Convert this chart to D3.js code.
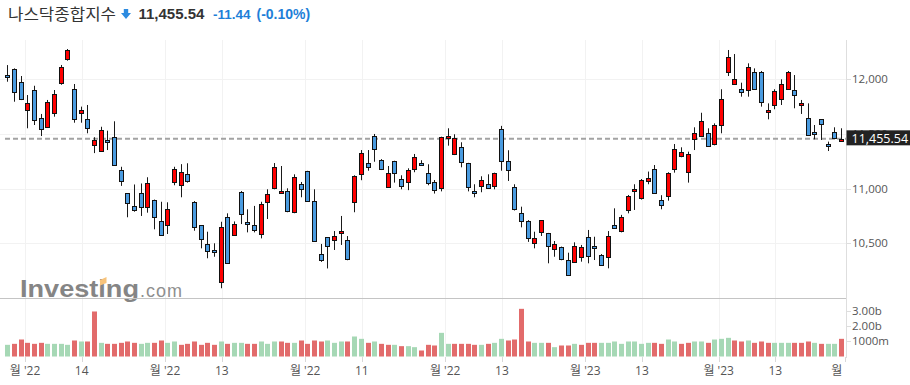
<!DOCTYPE html>
<html><head><meta charset="utf-8">
<script src="https://cdn.jsdelivr.net/npm/d3@7"></script>
<style>body{margin:0;background:#fff;}svg{display:block;}</style>
</head><body>
<svg id="chart" width="910" height="385"></svg>
<script>
// ---------------- DATA ----------------
const dates = ["2022-08-29","2022-08-30","2022-08-31","2022-09-01","2022-09-02","2022-09-06","2022-09-07","2022-09-08","2022-09-09","2022-09-12",
"2022-09-13","2022-09-14","2022-09-15","2022-09-16","2022-09-19","2022-09-20","2022-09-21","2022-09-22","2022-09-23","2022-09-26",
"2022-09-27","2022-09-28","2022-09-29","2022-09-30","2022-10-03","2022-10-04","2022-10-05","2022-10-06","2022-10-07","2022-10-10",
"2022-10-11","2022-10-12","2022-10-13","2022-10-14","2022-10-17","2022-10-18","2022-10-19","2022-10-20","2022-10-21","2022-10-24",
"2022-10-25","2022-10-26","2022-10-27","2022-10-28","2022-10-31","2022-11-01","2022-11-02","2022-11-03","2022-11-04","2022-11-07",
"2022-11-08","2022-11-09","2022-11-10","2022-11-11","2022-11-14","2022-11-15","2022-11-16","2022-11-17","2022-11-18","2022-11-21",
"2022-11-22","2022-11-23","2022-11-25","2022-11-28","2022-11-29","2022-11-30","2022-12-01","2022-12-02","2022-12-05","2022-12-06",
"2022-12-07","2022-12-08","2022-12-09","2022-12-12","2022-12-13","2022-12-14","2022-12-15","2022-12-16","2022-12-19","2022-12-20",
"2022-12-21","2022-12-22","2022-12-23","2022-12-27","2022-12-28","2022-12-29","2022-12-30","2023-01-03","2023-01-04","2023-01-05",
"2023-01-06","2023-01-09","2023-01-10","2023-01-11","2023-01-12","2023-01-13","2023-01-17","2023-01-18","2023-01-19","2023-01-20",
"2023-01-23","2023-01-24","2023-01-25","2023-01-26","2023-01-27","2023-01-30","2023-01-31","2023-02-01","2023-02-02","2023-02-03",
"2023-02-06","2023-02-07","2023-02-08","2023-02-09","2023-02-10","2023-02-13","2023-02-14","2023-02-15","2023-02-16","2023-02-17",
"2023-02-21","2023-02-22","2023-02-23","2023-02-24","2023-02-27","2023-02-28"];

const open = [12036,12091,11973,11716,11899,11643,11561,11689,11963,12183,
11908,11689,11634,11400,11344,11445,11470,11170,10957,10841,
10957,10829,10896,10704,10667,11058,11029,11131,10880,10667,
10491,10437,10143,10743,10575,10967,10692,10665,10582,10875,
11003,10957,10976,10784,11040,11163,10887,10403,10555,10530,
10600,10527,10875,11131,11232,11481,11262,11013,11255,11092,
11064,11177,11232,11146,11058,11003,11462,11314,11378,11232,
10975,11024,11040,11024,11543,11253,11013,10774,10707,10500,
10600,10591,10445,10463,10347,10326,10372,10560,10475,10393,
10372,10667,10615,10805,10978,10912,11073,11177,10896,10933,
11177,11301,11149,11457,11481,11512,11405,11582,12070,11957,
11909,11902,12070,12070,11698,11765,11817,11909,11899,11771,
11643,11520,11634,11410,11515,11443];
const high = [12130,12100,12030,11856,11941,11683,11811,11902,12131,12277,
11957,11750,11765,11470,11566,11530,11616,11200,10960,11038,
11047,11104,10900,10880,10875,11200,11224,11232,10886,10667,
10606,10500,10697,10774,10700,10978,10811,10842,10880,10994,
11234,11207,11003,11131,11061,11163,10994,10494,10555,10612,
10750,10566,11122,11353,11353,11500,11270,11207,11255,11122,
11186,11317,11260,11223,11079,11475,11552,11497,11424,11236,
11040,11113,11131,11146,11574,11351,11040,10835,10712,10606,
10712,10595,10521,10470,10414,10509,10485,10622,10560,10402,
10612,10820,10760,10942,11040,11088,11156,11216,10940,11150,
11408,11378,11338,11561,11694,11552,11597,11909,12268,12231,
11969,12146,12100,12076,11780,11909,12000,12076,12039,11811,
11780,11582,11634,11430,11561,11552];
const low = [11978,11795,11810,11552,11582,11481,11555,11658,11950,12170,
11603,11603,11506,11325,11338,11353,11215,11025,10738,10789,
10750,10780,10628,10575,10585,11031,10921,11055,10615,10454,
10363,10377,10089,10317,10570,10676,10600,10600,10545,10722,
10994,10957,10784,10775,10921,10880,10520,10330,10270,10439,
10485,10345,10784,11077,11164,11246,11170,11013,11055,10994,
10986,11150,11220,11031,10955,10975,11393,11307,11195,10975,
10921,10967,11003,10994,11164,11070,10800,10646,10513,10454,
10567,10317,10377,10345,10213,10326,10332,10317,10347,10300,
10271,10637,10600,10774,10805,10900,11040,10956,10811,10890,
11146,11287,11055,11353,11475,11390,11396,11506,12030,11948,
11841,11841,11902,11750,11634,11726,11765,11902,11735,11683,
11490,11451,11445,11344,11451,11440];
const close = [12018,11883,11816,11785,11631,11545,11792,11862,12112,12266,
11634,11720,11552,11448,11535,11425,11220,11067,10868,10803,
10830,11052,10738,10576,10815,11176,11148,11073,10652,10542,
10426,10417,10649,10321,10675,10772,10680,10620,10860,10953,
11199,10976,10793,11102,10995,10891,10525,10343,10475,10565,
10617,10353,11114,11323,11197,11358,11184,11145,11146,11025,
11174,11285,11226,11050,10984,11468,11482,11462,11240,11015,
10958,11082,11008,11144,11256,11171,10811,10705,10546,10547,
10709,10476,10498,10353,10213,10478,10466,10387,10459,10305,
10569,10640,10743,10932,11001,11079,11095,10957,10852,11140,
11364,11334,11313,11512,11622,11394,11585,11816,12201,12007,
11887,12114,11911,11790,11718,11892,11960,12071,11856,11787,
11492,11507,11590,11395,11467,11455.54];
// volume in millions
const volume = [768,833,1118,899,833,899,833,833,833,768,
1053,987,987,2961,899,833,833,899,987,899,
833,899,899,1053,899,987,768,833,987,768,
899,768,987,833,899,899,833,833,987,833,
987,987,899,899,1053,833,1053,987,1053,899,
987,987,1316,1162,899,987,833,768,768,680,
680,614,395,768,724,1557,833,833,833,833,
768,768,833,899,1162,1053,1118,3136,987,899,
899,899,614,724,724,833,768,899,899,899,
899,987,833,987,987,833,899,899,833,1118,
987,833,899,987,987,899,1118,1162,1228,1053,
987,1053,899,987,899,899,899,899,899,899,
987,899,833,833,833,1162];
// volume bar colour: 1 = red, 0 = green
const volRed = [0,1,1,1,1,1,0,0,0,0,
1,0,1,1,0,1,1,1,1,1,
0,0,1,1,0,0,1,1,1,1,
1,1,0,1,0,0,1,1,0,0,
0,1,1,0,1,1,1,1,0,0,
0,1,0,0,1,0,1,1,0,1,
0,0,1,1,1,0,0,1,1,1,
1,0,1,0,0,1,1,1,1,0,
0,1,0,1,1,0,1,1,1,0,
0,0,0,0,0,0,0,1,1,0,
0,1,1,0,0,1,0,0,0,1,
1,0,1,1,1,0,0,0,1,1,
1,0,1,0,0,1];

const lastPrice = 11455.54;
const priceTicks = [10500, 11000, 11500, 12000];
const volTicks = [1000, 2000, 3000];
const volTickLabels = ["1000m", "2.00b", "3.00b"];
const monthTickDates = ["2022-09-01","2022-10-03","2022-11-01","2022-12-01","2023-01-03","2023-02-01","END"];
const monthTickLabels = ["월 '22","월 '22","월 '22","월 '22","월 '23","월 '23","월"];
const midTickDates = ["2022-09-14","2022-10-13","2022-11-11","2022-12-13","2023-01-13","2023-02-13"];
const midTickLabels = ["14","13","11","13","13","13"];
const titleName = "나스닥종합지수";
const changeText = "-11.44";
const changePct = "(-0.10%)";

// ---------------- CHART ----------------
const svg = d3.select("#chart");
const axisX = 846;
const pTop = 40, pBot = 298, vBot = 356.5;
const font = "'Open Sans','Noto Sans CJK KR',sans-serif";

const x = d3.scaleBand().domain(dates).range([5, 845.4]).paddingInner(0.2).paddingOuter(0.1);
const step = x.step();
const cx = d => x(d) + x.bandwidth() / 2;
const boundary = d => d === "END" ? 845.4 : cx(d) - step / 2;

const y = d3.scaleLinear().domain([10500, 12000]).range([243.3, 79.3]);
const yv = d3.scaleLinear().domain([0, 3000]).range([vBot, vBot - 45.6]);

// grid
const grid = svg.append("g");
grid.selectAll("line.h").data(priceTicks).join("line")
  .attr("x1", 0).attr("x2", axisX).attr("y1", d => Math.round(y(d)) + 0.5).attr("y2", d => Math.round(y(d)) + 0.5)
  .attr("stroke", "#f2f2f2");
const vx = monthTickDates.slice(0, 6).map(boundary).concat(midTickDates.map(cx));
grid.selectAll("line.v").data(vx).join("line")
  .attr("x1", d => Math.round(d) + 0.5).attr("x2", d => Math.round(d) + 0.5)
  .attr("y1", pTop).attr("y2", vBot).attr("stroke", "#f2f2f2");

// watermark
const wm = svg.append("g");
wm.append("text").attr("x", 20).attr("y", 296.5).text("Investing")
  .attr("font-family", "'Liberation Sans',Arial,sans-serif").attr("font-weight", "bold")
  .attr("font-size", 24).attr("textLength", 119).attr("lengthAdjust", "spacingAndGlyphs").attr("fill", "#858585");
wm.append("text").attr("x", 140).attr("y", 296.5).text(".com")
  .attr("font-family", "'Liberation Sans',Arial,sans-serif")
  .attr("font-size", 18).attr("textLength", 42).attr("fill", "#8f8f8f");
wm.append("polygon").attr("points", "100,280 106.5,277 106.5,283 100,285.5").attr("fill", "#f7c37b");

// separator
svg.append("line").attr("x1", 0).attr("x2", axisX).attr("y1", pBot + 0.5).attr("y2", pBot + 0.5)
  .attr("stroke", "#c4c4c4").attr("stroke-width", 1);

// last price dashed line
svg.append("line").attr("x1", 5).attr("x2", axisX).attr("y1", y(lastPrice)).attr("y2", y(lastPrice))
  .attr("stroke", "#a3a3a3").attr("stroke-width", 2).attr("stroke-dasharray", "5,3");

// volume bars
svg.append("g").selectAll("rect").data(dates).join("rect")
  .attr("x", d => Math.round(cx(d)) - 3).attr("width", 5)
  .attr("y", (d, i) => yv(volume[i])).attr("height", (d, i) => vBot - yv(volume[i]))
  .attr("fill", (d, i) => volRed[i] ? "#e26b6b" : "#a6d8b5");

// candles
const cg = svg.append("g");
dates.forEach((d, i) => {
  const c = Math.round(cx(d));
  const up = close[i] >= open[i];
  cg.append("line").attr("x1", c - 0.5).attr("x2", c - 0.5)
    .attr("y1", y(high[i])).attr("y2", y(low[i])).attr("stroke", "#1a1a1a").attr("stroke-width", 1);
  const t = Math.round(y(Math.max(open[i], close[i]))) + 0.5;
  let b = Math.round(y(Math.min(open[i], close[i]))) + 0.5;
  if (b - t < 2) b = t + 2;
  cg.append("rect").attr("x", c - 2.5).attr("width", 4).attr("y", t).attr("height", b - t)
    .attr("fill", up ? "#ff0000" : "#4a9be0").attr("stroke", "#111").attr("stroke-width", 1);
});

// right axis
svg.append("line").attr("x1", axisX + 0.5).attr("x2", axisX + 0.5).attr("y1", pTop).attr("y2", 358)
  .attr("stroke", "#dedede");
const ra = svg.append("g");
ra.selectAll("line.pt").data(priceTicks).join("line")
  .attr("x1", axisX).attr("x2", axisX + 5).attr("y1", d => Math.round(y(d)) + 0.5).attr("y2", d => Math.round(y(d)) + 0.5)
  .attr("stroke", "#dedede");
ra.selectAll("text.pt").data(priceTicks).join("text")
  .attr("x", 852).attr("y", d => y(d) + 4).text(d => d3.format(",")(d))
  .attr("font-family", font).attr("font-size", 11.5).attr("fill", "#555");
ra.selectAll("line.vt").data(volTicks).join("line")
  .attr("x1", axisX).attr("x2", axisX + 5).attr("y1", d => Math.round(yv(d)) + 0.5).attr("y2", d => Math.round(yv(d)) + 0.5)
  .attr("stroke", "#dedede");
ra.selectAll("text.vt").data(volTicks).join("text")
  .attr("x", 852).attr("y", d => yv(d) + 4).text((d, i) => volTickLabels[i])
  .attr("font-family", font).attr("font-size", 11.5).attr("fill", "#555");

// last price label (covers the 11,500 tick label, as in the original)
const ly = y(lastPrice);
svg.append("rect").attr("x", axisX + 0.5).attr("y", ly - 8.5).attr("width", 64).attr("height", 15).attr("fill", "#222");
svg.append("text").attr("x", 851.5).attr("y", ly + 3.8).text(d3.format(",.2f")(lastPrice))
  .attr("font-family", font).attr("font-size", 12.5).attr("fill", "#fff");

// bottom axis
const ba = svg.append("g");
const ticksAll = monthTickDates.map((d, i) => ({ x: boundary(d), label: monthTickLabels[i], last: d === "END" }))
  .concat(midTickDates.map((d, i) => ({ x: cx(d), label: midTickLabels[i], last: false })));
ba.selectAll("line").data(ticksAll).join("line")
  .attr("x1", d => Math.round(d.x) + 0.5).attr("x2", d => Math.round(d.x) + 0.5)
  .attr("y1", 357).attr("y2", 362).attr("stroke", "#d8d8d8");
ba.selectAll("text").data(ticksAll).join("text")
  .attr("x", d => d.last ? d.x - 3 : d.x).attr("y", 375)
  .attr("text-anchor", d => d.last ? "end" : "middle")
  .text(d => d.label).attr("font-family", font).attr("font-size", 12).attr("fill", "#555");

// header
const hd = svg.append("g");
hd.append("text").attr("x", 8).attr("y", 20).text(titleName)
  .attr("font-family", "'Noto Sans CJK KR',sans-serif").attr("font-size", 15.5)
  .attr("textLength", 108).attr("lengthAdjust", "spacingAndGlyphs").attr("fill", "#333");
hd.append("path").attr("d", "M123.8,9 H128.2 V13 H131 L126,19 L121,13 H123.8 Z").attr("fill", "#2c8be0");
hd.append("text").attr("x", 138.5).attr("y", 19.3).text(d3.format(",.2f")(lastPrice))
  .attr("font-family", "'Liberation Sans',Arial,sans-serif").attr("font-weight", "bold").attr("font-size", 15).attr("fill", "#333");
hd.append("text").attr("x", 213).attr("y", 19.3).text(changeText)
  .attr("font-family", "'Liberation Sans',Arial,sans-serif").attr("font-weight", "bold").attr("font-size", 13.5).attr("fill", "#1e7fd8");
hd.append("text").attr("x", 256.5).attr("y", 19.3).text(changePct)
  .attr("font-family", "'Liberation Sans',Arial,sans-serif").attr("font-weight", "bold").attr("font-size", 14).attr("fill", "#1e7fd8");
</script>
</body></html>
